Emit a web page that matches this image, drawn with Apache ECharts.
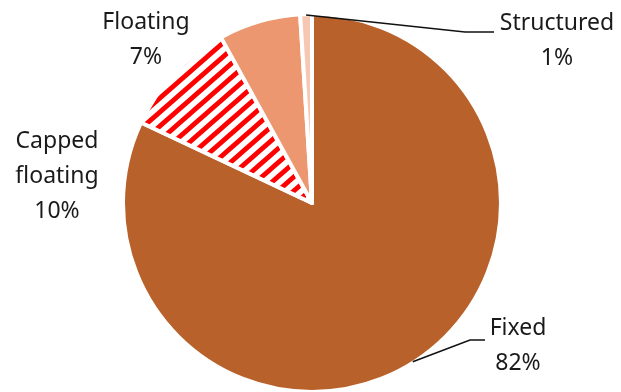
<!DOCTYPE html>
<html>
<head>
<meta charset="utf-8">
<script src="https://cdn.jsdelivr.net/npm/echarts@6/dist/echarts.min.js"></script>
<style>
  html, body { margin: 0; padding: 0; background: #ffffff; }
  #chart { width: 621px; height: 392px; }
</style>
</head>
<body>
<div id="chart"></div>
<script>
// Rate-type shares (%)
const categories = ['Fixed', 'Capped floating', 'Floating', 'Structured'];
const shares = [82, 10, 7, 1];
const sliceColors = ['#B9612A', null, '#EC976F', '#F6C8B4'];

// Pie geometry
const CX = 312, CY = 203, R = 189;

// Red diagonal hatching used for the capped-floating slice
function makeHatch() {
  const W = 16, H = 14;
  const c = document.createElement('canvas');
  c.width = W; c.height = H;
  const ctx = c.getContext('2d');
  ctx.fillStyle = '#ffffff';
  ctx.fillRect(0, 0, W, H);
  ctx.strokeStyle = '#FF0000';
  ctx.lineWidth = 4.8;
  for (let k = -1; k <= 2; k++) {
    ctx.beginPath();
    ctx.moveTo(k * W + W, -H);
    ctx.lineTo(k * W - 2 * W, 2 * H);
    ctx.stroke();
  }
  return c;
}
const hatch = makeHatch();

// Point on the rim at the middle of slice i (clockwise from 12 o'clock)
const total = shares.reduce((a, b) => a + b, 0);
function rimPoint(i, r) {
  let before = 0;
  for (let k = 0; k < i; k++) before += shares[k];
  const ang = (before + shares[i] / 2) / total * 2 * Math.PI;
  return [CX + r * Math.sin(ang), CY - r * Math.cos(ang)];
}

// Label anchors and leader-line bends
const labelPos = [
  { x: 518, y: 346, bend: [[470, 340], [485, 340]] },
  { x: 57, y: 176, bend: null },
  { x: 146, y: 40, bend: null },
  { x: 557, y: 41, bend: [[465, 32], [494, 32]] }
];

const data = categories.map((name, i) => ({
  name: name,
  value: shares[i],
  itemStyle: {
    color: i === 1 ? { image: hatch, repeat: 'repeat' } : sliceColors[i]
  }
}));

// Leader lines from the slice rim to the label
const leaders = labelPos
  .map((lp, i) => lp.bend ? {
    type: 'polyline',
    silent: true,
    shape: { points: [rimPoint(i, R - 1)].concat(lp.bend) },
    style: { stroke: '#111111', lineWidth: 1.5, fill: null },
    z: 10
  } : null)
  .filter(Boolean);

const chart = echarts.init(document.getElementById('chart'), null, { renderer: 'canvas' });
chart.setOption({
  animation: false,
  graphic: leaders,
  series: [{
    type: 'pie',
    center: [CX, CY],
    radius: R,
    startAngle: 90,
    clockwise: true,
    silent: true,
    emphasis: { disabled: true },
    itemStyle: { borderColor: '#ffffff', borderWidth: 4 },
    label: {
      show: true,
      position: 'outside',
      color: '#1a1a1a',
      fontFamily: 'Noto Sans',
      fontSize: 23,
      lineHeight: 35,
      align: 'center',
      overflow: 'none',
      width: 200,
      formatter: p => p.name.replace(' ', '\n') + '\n' + p.value + '%'
    },
    labelLine: { show: false },
    labelLayout: function (params) {
      const lp = labelPos[params.dataIndex];
      return { x: lp.x, y: lp.y, align: 'center', verticalAlign: 'middle' };
    },
    data: data
  }]
});
</script>
</body>
</html>
